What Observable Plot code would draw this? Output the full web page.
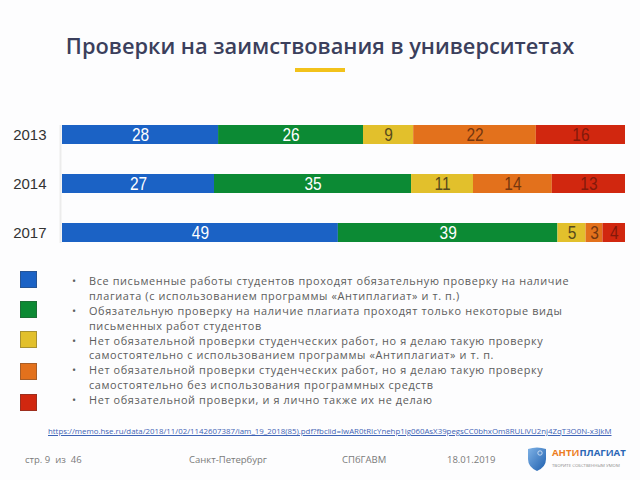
<!DOCTYPE html>
<html><head><meta charset="utf-8">
<script src="https://cdn.jsdelivr.net/npm/d3@7"></script>
<script src="https://cdn.jsdelivr.net/npm/@observablehq/plot@0.6"></script>
<style>
body{margin:0;width:640px;height:480px;position:relative;background:#fdfdfe;overflow:hidden;font-family:"Open Sans",sans-serif;}
#title{position:absolute;top:31px;left:0;width:640px;text-align:center;font-weight:600;font-size:21.8px;color:#3b3f5c;white-space:nowrap;}
#rule{position:absolute;left:295px;top:68px;width:50px;height:4px;background:#f2c21b;}
#chart{position:absolute;left:0;top:100px;}
#legend{position:absolute;left:0;top:274px;width:640px;}
.sq{position:absolute;left:20px;width:15px;height:15px;border:1px solid rgba(60,60,60,0.35);}
#lines{position:absolute;left:89px;top:0;font-size:10.9px;letter-spacing:0.62px;line-height:14.9px;color:#5c5c5c;white-space:nowrap;}
.ln{position:relative;height:14.9px;}
.bul{position:absolute;left:-17px;}
#url{position:absolute;left:48px;top:426px;font-size:7.85px;color:#3d63b5;text-decoration:underline;white-space:nowrap;}
.ft{position:absolute;top:453px;font-size:9.5px;color:#7a7a7a;white-space:pre;}
#shield{position:absolute;left:527px;top:447px;}
#brand{position:absolute;left:552px;top:446px;font-size:9.6px;font-weight:700;white-space:nowrap;}
#brandsub{position:absolute;left:552px;top:462px;font-size:4.3px;color:#8a8a8a;white-space:nowrap;}
</style></head>
<body>
<div id="title">Проверки на заимствования в университетах</div>
<div id="rule"></div>
<div id="chart"></div>
<div id="legend"><div id="lines"></div></div>
<div id="url"></div>
<div id="footer"></div>
<svg id="shield" width="20" height="25" viewBox="0 0 20 25">
  <defs><linearGradient id="sg" x1="0" x2="1" y1="0" y2="1"><stop offset="0" stop-color="#7fb2e6"/><stop offset="1" stop-color="#1e5fae"/></linearGradient></defs>
  <path d="M1 2 Q10 -1 19 2 L19 12 Q19 20 10 24 Q1 20 1 12 Z" fill="url(#sg)"/>
  <circle cx="13" cy="6" r="2.2" fill="none" stroke="#dce9f7" stroke-width="0.8"/>
</svg>
<div id="brand"><span style="color:#ec7d23">АНТИ</span><span style="color:#2a66b5">ПЛАГИАТ</span></div>
<div id="brandsub">ТВОРИТЕ СОБСТВЕННЫМ УМОМ</div>
<script>
// ---- data ----
const years = ["2013", "2014", "2017"];
const categories = [
  "Все письменные работы студентов проходят обязательную проверку на наличие плагиата (с использованием программы «Антиплагиат» и т. п.)",
  "Обязательную проверку на наличие плагиата проходят только некоторые виды письменных работ студентов",
  "Нет обязательной проверки студенческих работ, но я делаю такую проверку самостоятельно с использованием программы «Антиплагиат» и т. п.",
  "Нет обязательной проверки студенческих работ, но я делаю такую проверку самостоятельно без использования программных средств",
  "Нет обязательной проверки, и я лично также их не делаю"
];
const legendLines = [
  ["Все письменные работы студентов проходят обязательную проверку на наличие", "плагиата (с использованием программы «Антиплагиат» и т. п.)"],
  ["Обязательную проверку на наличие плагиата проходят только некоторые виды", "письменных работ студентов"],
  ["Нет обязательной проверки студенческих работ, но я делаю такую проверку", "самостоятельно с использованием программы «Антиплагиат» и т. п."],
  ["Нет обязательной проверки студенческих работ, но я делаю такую проверку", "самостоятельно без использования программных средств"],
  ["Нет обязательной проверки, и я лично также их не делаю"]
];
const values2013 = [28, 26, 9, 22, 16];
const values2014 = [27, 35, 11, 14, 13];
const values2017 = [49, 39, 5, 3, 4];
const sourceUrl = "https://memo.hse.ru/data/2018/11/02/1142607387/iam_19_2018(85).pdf?fbclid=IwAR0tRIcYnehp1ig060AsX39pegsCC0bhxOm8RULiVU2nj4ZqT3O0N-x3JkM";
const footerTexts = ["стр. 9  из  46", "Санкт-Петербург", "СПбГАВМ", "18.01.2019"];

// ---- styles ----
const colors = ["#1b62c5", "#0c8a34", "#e2c02c", "#e3711c", "#d1270f"];
const labelColors = ["#ffffff", "#ffffff", "#574a1c", "#74360f", "#82190b"];
const footerX = [25, 189, 342, 447];

const series = [values2013, values2014, values2017];
const table = [];
years.forEach((y, yi) => series[yi].forEach((v, ci) => table.push({year: y, cat: categories[ci], ci, value: v})));

const chart = Plot.plot({
  width: 640, height: 160,
  marginLeft: 62, marginRight: 15, marginTop: 25, marginBottom: 17,
  x: {axis: null, domain: [0, 1]},
  y: {domain: years, paddingInner: 0.61, paddingOuter: 0, align: 0.5, label: null, tickSize: 0, tickPadding: 16},
  color: {domain: categories, range: colors},
  style: {background: "transparent", fontFamily: "'Liberation Sans', Arial, sans-serif", fontSize: "15px", color: "#333"},
  marks: [
    Plot.ruleX([0], {stroke: "#ececec", strokeWidth: 2, dx: -2}),
    Plot.barX(table, Plot.stackX({offset: "normalize", x: "value", y: "year", fill: "cat"})),
    Plot.text(table, Plot.stackX({offset: "normalize", x: "value", y: "year", text: "value",
      fill: {value: d => labelColors[d.ci], scale: null},
      fontFamily: "'Liberation Sans', Arial, sans-serif", fontSize: 18, className: "seglabel"}))
  ]
});
// condense the in-bar numbers like the reference's narrow face
chart.querySelectorAll("g.seglabel text").forEach(t => {
  const tr = t.getAttribute("transform") || "";
  t.setAttribute("transform", tr + " scale(0.86,1)");
});
document.getElementById("chart").appendChild(chart);

// legend
const legend = document.getElementById("legend");
const lines = document.getElementById("lines");
const sqTops = [271, 301, 331, 363, 394];
legendLines.forEach((ls, i) => {
  const sq = document.createElement("div");
  sq.className = "sq";
  sq.style.top = (sqTops[i] - 274) + "px";
  sq.style.background = colors[i];
  legend.appendChild(sq);
  ls.forEach((t, j) => {
    const d = document.createElement("div");
    d.className = "ln";
    if (j === 0) { const b = document.createElement("span"); b.className = "bul"; b.textContent = "•"; d.appendChild(b); }
    d.appendChild(document.createTextNode(t));
    lines.appendChild(d);
  });
});
document.getElementById("url").textContent = sourceUrl;
const footer = document.getElementById("footer");
footerTexts.forEach((t, i) => {
  const d = document.createElement("div");
  d.className = "ft"; d.style.left = footerX[i] + "px";
  d.textContent = t; footer.appendChild(d);
});
</script>
</body></html>
